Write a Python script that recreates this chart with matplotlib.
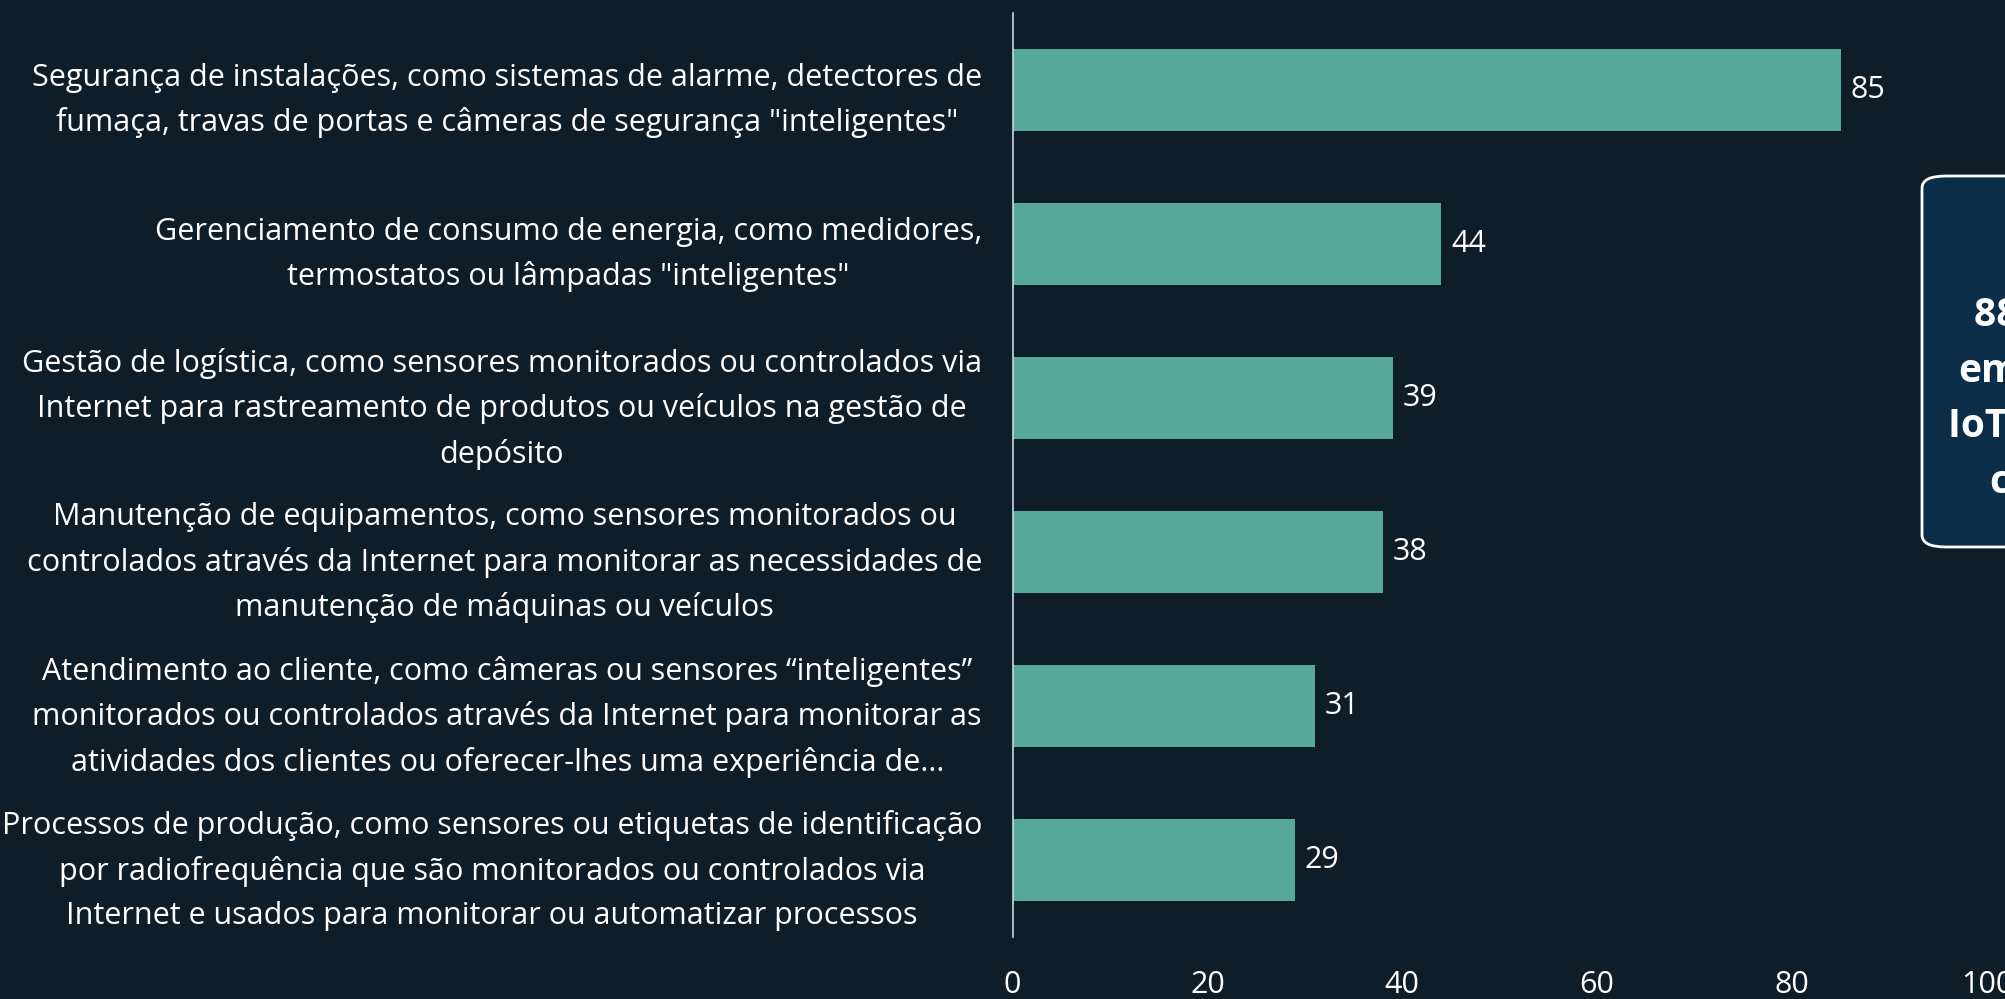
import numpy as np
import matplotlib
matplotlib.use('Agg')
import matplotlib.pyplot as plt
from matplotlib.patches import FancyBboxPatch

#colours
bg = '#0d1d2a'
bar_col = '#56a89a'
box_col = '#0b2d48'

categories = [
    'Segurança de instalações, como sistemas de alarme, detectores de\nfumaça, travas de portas e câmeras de segurança "inteligentes"',
    'Gerenciamento de consumo de energia, como medidores,\ntermostatos ou lâmpadas "inteligentes"',
    'Gestão de logística, como sensores monitorados ou controlados via\nInternet para rastreamento de produtos ou veículos na gestão de\ndepósito',
    'Manutenção de equipamentos, como sensores monitorados ou\ncontrolados através da Internet para monitorar as necessidades de\nmanutenção de máquinas ou veículos',
    'Atendimento ao cliente, como câmeras ou sensores \u201cinteligentes\u201d\nmonitorados ou controlados através da Internet para monitorar as\natividades dos clientes ou oferecer-lhes uma experiência de...',
    'Processos de produção, como sensores ou etiquetas de identificação\npor radiofrequência que são monitorados ou controlados via\nInternet e usados para monitorar ou automatizar processos',
]
values = [85, 44, 39, 38, 31, 29]
xticks = [0, 20, 40, 60, 80, 100]
box_text = '88% das\nempresas\nIoT em sua\ncadeia'

plt.rcParams['font.family'] = ['Open Sans', 'DejaVu Sans']

fig = plt.figure(figsize=(20.05, 9.99), dpi=100)
fig.patch.set_facecolor(bg)
ax = fig.add_axes([0.505, 0.062, 0.486, 0.925])
ax.set_facecolor(bg)

y = np.arange(len(values))
ax.barh(y, values, height=0.53, color=bar_col)
for yy, v in zip(y, values):
    ax.text(v + 1.0, yy, str(v), va='center', ha='left', color='white', fontsize=22)

ax.set_xlim(0, 100)
ax.set_ylim(len(values) - 0.5, -0.5)
ax.set_yticks(y)
ax.set_yticklabels(categories, fontsize=22, color='white', multialignment='center', linespacing=1.6)
ax.set_xticks(xticks)
ax.set_xticklabels([str(t) for t in xticks], fontsize=22, color='white')
ax.tick_params(axis='y', length=0, pad=22)
ax.tick_params(axis='x', length=0, pad=24)
for s in ['top', 'right', 'bottom']:
    ax.spines[s].set_visible(False)
ax.spines['left'].set_color('#c8d8e8')
ax.spines['left'].set_linewidth(1.2)

#highlight box, runs off the right edge
box = FancyBboxPatch((1922/2005, 1-547/999), 0.2, 371/999,
                     boxstyle='round,pad=0,rounding_size=0.012',
                     transform=fig.transFigure, facecolor=box_col, edgecolor='white', lw=2, clip_on=False)
fig.patches.append(box)
fig.text(2052/2005, 1-399/999, box_text, ha='center', va='center', color='white', fontsize=28,
         fontweight='bold', linespacing=1.55)

fig.savefig('out.png', dpi=100, facecolor=bg)
